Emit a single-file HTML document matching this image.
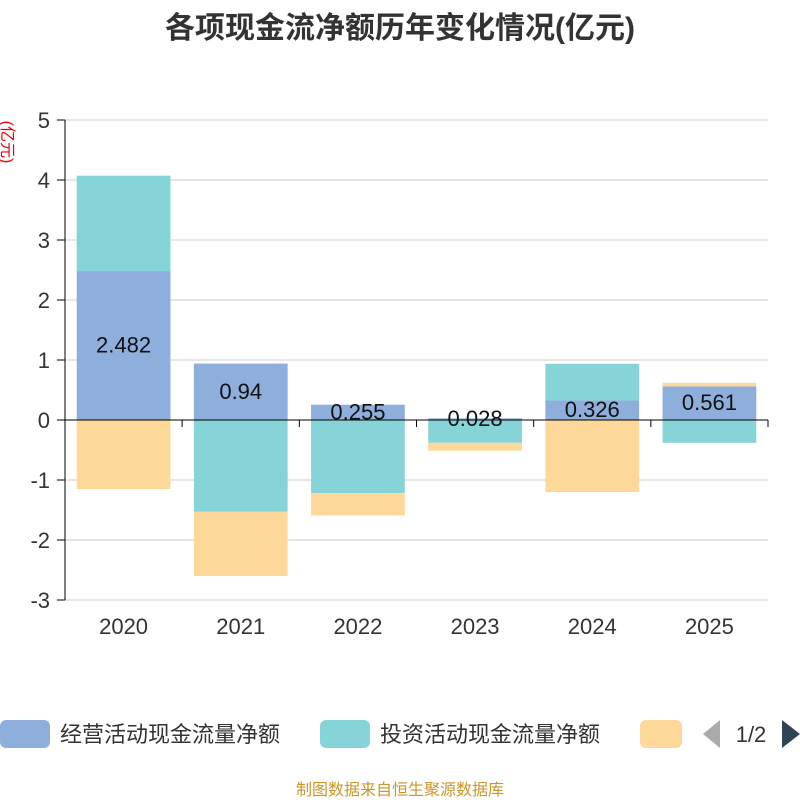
<!DOCTYPE html>
<html><head><meta charset="utf-8"><style>
body{margin:0;background:#fff;}
svg text{font-family:"Liberation Sans","Noto Sans CJK SC",sans-serif;}
</style></head><body>
<svg id="c" width="800" height="800" xmlns="http://www.w3.org/2000/svg">
<text x="400" y="38" text-anchor="middle" font-size="30" font-weight="bold" fill="#333">各项现金流净额历年变化情况(亿元)</text>
<text transform="translate(2,142) rotate(90)" text-anchor="middle" font-size="16" fill="#e00">(亿元)</text>
<g id="grid"></g><g id="bars"></g><g id="axes"></g><g id="labels"></g>
<g>
<rect x="0" y="720" width="50" height="28" rx="6" fill="#8eaedc"/>
<text x="60" y="742" font-size="22" fill="#333">经营活动现金流量净额</text>
<rect x="320" y="720" width="50" height="28" rx="6" fill="#86d4d8"/>
<text x="380" y="742" font-size="22" fill="#333">投资活动现金流量净额</text>
<rect x="640" y="720" width="42" height="28" rx="6" fill="#fed899"/>
<path d="M720 720 L703 734 L720 748 Z" fill="#aaa"/>
<text x="751" y="742" text-anchor="middle" font-size="22" fill="#333">1/2</text>
<path d="M782 720 L800 734 L782 748 Z" fill="#2f4554"/>
</g>
<text x="400" y="795" text-anchor="middle" font-size="16" fill="#c8962a">制图数据来自恒生聚源数据库</text>
</svg>
<script>
const categories=["2020","2021","2022","2023","2024","2025"];
const operating=[2.482,0.94,0.255,0.028,0.326,0.561];
const investing=[1.59,-1.53,-1.22,-0.38,0.61,-0.38];
const financing=[-1.15,-1.07,-0.37,-0.13,-1.2,0.06];
const yTicks=[5,4,3,2,1,0,-1,-2,-3];
const NS="http://www.w3.org/2000/svg";
const L=65,R=768,T=120,B=600,yMax=5,yMin=-3;
const y=v=>T+(yMax-v)/(yMax-yMin)*(B-T);
const bw=(R-L)/categories.length;
const x=i=>L+bw*i;
function el(p,t,a){const e=document.createElementNS(NS,t);for(const k in a)e.setAttribute(k,a[k]);document.getElementById(p).appendChild(e);return e;}
yTicks.forEach(v=>{
 const g=el("grid","line",{x1:L,x2:R,y1:y(v),y2:y(v),stroke:"#ccc"});
 
 
 const t=el("axes","text",{x:L-15,y:y(v)+8,"text-anchor":"end","font-size":"22",fill:"#333"});t.textContent=v;
 
 
 const tk=el("axes","line",{x1:L-8,x2:L,y1:y(v),y2:y(v),stroke:"#000"});
 
 
});
const ya=el("axes","line",{x1:L,x2:L,y1:T,y2:B,stroke:"#000"});


const xa=el("axes","line",{x1:L,x2:R,y1:y(0),y2:y(0),stroke:"#000"});


const series=[[operating,"#8eaedc","operating"],[investing,"#86d4d8","investing"],[financing,"#fed899","financing"]];
categories.forEach((c,i)=>{
 let pos=0,neg=0;const bx=x(i)+bw*0.1,w=bw*0.8;
 series.forEach(([arr,col,nm])=>{
  const v=arr[i];let a,b;
  if(v>=0){a=pos;b=pos+v;pos=b;}else{a=neg;b=neg+v;neg=b;}
  const r=el("bars","rect",{x:bx,width:w,y:Math.min(y(a),y(b)),height:Math.abs(y(a)-y(b)),fill:col});
  
  
 });
 const lt=el("labels","text",{x:x(i)+bw/2,y:(y(0)+y(operating[i]))/2+7,"text-anchor":"middle","font-size":"22",fill:"#111"});
 lt.textContent=operating[i];
 
 
 const xt=el("axes","text",{x:x(i)+bw/2,y:B+34,"text-anchor":"middle","font-size":"22",fill:"#333"});xt.textContent=c;
 
 
 const tk=el("axes","line",{x1:x(i+1),x2:x(i+1),y1:y(0),y2:y(0)+7,stroke:"#000"});
 
 
});
</script>
</body></html>
